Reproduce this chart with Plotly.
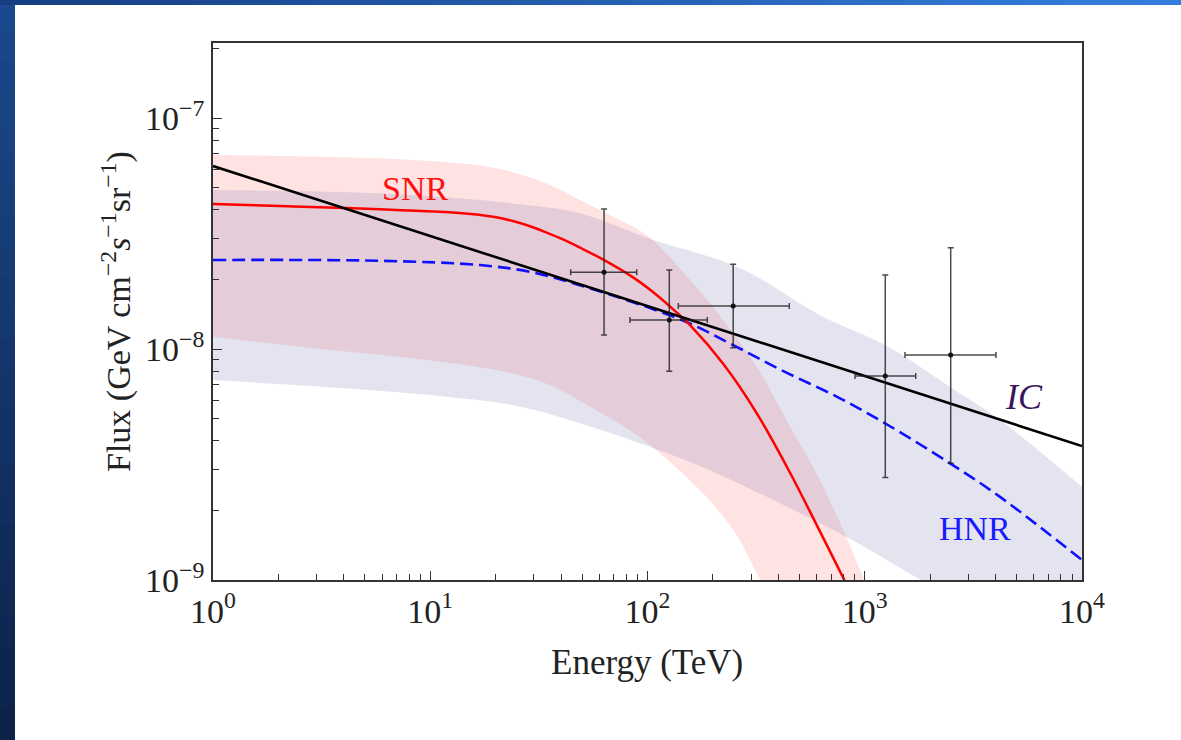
import plotly.graph_objects as go

# ---------------- data ----------------
ic_energy = [1, 10000]
ic_flux = [6.2e-8, 3.8e-9]

snr_energy = [1, 2.03, 4.1, 6.96, 11.8, 15.4, 20.1, 24.0, 28.8, 34.1, 40.8, 49.9, 61.1, 85.8,
              104.9, 129, 157, 223, 318, 453, 603, 811, 951]
snr_flux = [4.243e-8, 4.16e-8, 4.076e-8, 4.0e-8, 3.917e-8, 3.84e-8, 3.72e-8, 3.581e-8, 3.40e-8,
            3.20e-8, 2.982e-8, 2.723e-8, 2.467e-8, 2.043e-8, 1.779e-8, 1.508e-8, 1.268e-8,
            8.63e-9, 5.28e-9, 2.914e-9, 1.719e-9, 9.87e-10, 7.27e-10]

hnr_energy = [1, 5.85, 16.9, 28.7, 48.7, 100.5, 157, 248, 413, 769, 1240, 2469, 4194, 10000]
hnr_flux = [2.43e-8, 2.41e-8, 2.31e-8, 2.16e-8, 1.89e-8, 1.515e-8, 1.29e-8, 1.04e-8, 8.11e-9,
            6.12e-9, 4.77e-9, 3.20e-9, 2.29e-9, 1.22e-9]

snr_band_hi_energy = [1, 8.33, 20.1, 34.1, 48.9, 69.4, 100.5, 157, 223, 318, 453, 622, 992, 1175]
snr_band_hi_flux = [6.92e-8, 6.58e-8, 6.06e-8, 5.22e-8, 4.42e-8, 3.74e-8, 3.08e-8, 1.99e-8,
                    1.335e-8, 8.38e-9, 4.61e-9, 2.71e-9, 1.0e-9, 6.1e-10]
snr_band_lo_energy = [1, 2.89, 8.33, 20.1, 34.1, 57.9, 95.7, 174, 248, 330, 386]
snr_band_lo_flux = [1.13e-8, 1.007e-8, 9.11e-9, 8.11e-9, 7.10e-9, 5.44e-9, 4.04e-9, 2.45e-9,
                    1.65e-9, 1.0e-9, 7.6e-10]

hnr_band_hi_energy = [1, 5.85, 24.0, 48.9, 100.5, 267, 622, 1240, 2469, 4194, 10000]
hnr_band_hi_flux = [4.88e-8, 4.72e-8, 4.27e-8, 3.87e-8, 3.02e-8, 2.24e-8, 1.40e-8, 1.04e-8,
                    6.85e-9, 4.93e-9, 2.53e-9]
hnr_band_lo_energy = [1, 4.1, 11.8, 24.0, 48.9, 157, 407, 874, 1815, 10000]
hnr_band_lo_flux = [7.34e-9, 6.76e-9, 6.22e-9, 5.72e-9, 4.77e-9, 3.24e-9, 2.15e-9, 1.49e-9,
                    1.0e-9, 4.0e-10]

obs_energy = [63.1, 126, 248, 1243, 2487]
obs_energy_lo = [44.3, 83.0, 138.6, 902, 1532]
obs_energy_hi = [89.2, 188.5, 449.5, 1716, 4018]
obs_flux = [2.15e-8, 1.336e-8, 1.535e-8, 7.64e-9, 9.42e-9]
obs_flux_lo = [1.15e-8, 8.01e-9, 1.013e-8, 2.78e-9, 3.20e-9]
obs_flux_hi = [4.04e-8, 2.20e-8, 2.33e-8, 2.09e-8, 2.745e-8]

x_tick_vals = [1, 10, 100, 1000, 10000]
x_tick_text = ["10<sup>0</sup>", "10<sup>1</sup>", "10<sup>2</sup>", "10<sup>3</sup>", "10<sup>4</sup>"]
y_tick_vals = [1e-9, 1e-8, 1e-7]
y_tick_text = ["10<sup>\u22129</sup>", "10<sup>\u22128</sup>", "10<sup>\u22127</sup>"]

# ---------------- figure ----------------
FONT = "Liberation Serif, Times New Roman, serif"
PINK = "rgba(255,60,60,0.15)"
LAV = "rgba(120,120,180,0.20)"

fig = go.Figure()

# SNR band
fig.add_trace(go.Scatter(x=snr_band_lo_energy, y=snr_band_lo_flux, mode="lines",
                         line=dict(width=0, shape="spline", color=PINK), hoverinfo="skip",
                         showlegend=False))
fig.add_trace(go.Scatter(x=snr_band_hi_energy, y=snr_band_hi_flux, mode="lines",
                         line=dict(width=0, shape="spline", color=PINK), fill="tonexty",
                         fillcolor=PINK, hoverinfo="skip", showlegend=False))
# HNR band
fig.add_trace(go.Scatter(x=hnr_band_lo_energy, y=hnr_band_lo_flux, mode="lines",
                         line=dict(width=0, shape="spline", color=LAV), hoverinfo="skip",
                         showlegend=False))
fig.add_trace(go.Scatter(x=hnr_band_hi_energy, y=hnr_band_hi_flux, mode="lines",
                         line=dict(width=0, shape="spline", color=LAV), fill="tonexty",
                         fillcolor=LAV, hoverinfo="skip", showlegend=False))

# model curves
fig.add_trace(go.Scatter(x=hnr_energy, y=hnr_flux, mode="lines",
                         line=dict(color="#1010ff", width=2.6, dash="13px,6px", shape="spline"),
                         showlegend=False))
fig.add_trace(go.Scatter(x=snr_energy, y=snr_flux, mode="lines",
                         line=dict(color="#ff0000", width=2.5, shape="spline", smoothing=1.0),
                         showlegend=False))
fig.add_trace(go.Scatter(x=ic_energy, y=ic_flux, mode="lines",
                         line=dict(color="#000000", width=2.6), showlegend=False))

# data points
fig.add_trace(go.Scatter(
    x=obs_energy, y=obs_flux, mode="markers",
    marker=dict(color="#111111", size=5),
    error_x=dict(type="data", symmetric=False,
                 array=[h - v for h, v in zip(obs_energy_hi, obs_energy)],
                 arrayminus=[v - l for l, v in zip(obs_energy_lo, obs_energy)],
                 color="rgba(30,30,30,0.8)", thickness=1.5, width=3),
    error_y=dict(type="data", symmetric=False,
                 array=[h - v for h, v in zip(obs_flux_hi, obs_flux)],
                 arrayminus=[v - l for l, v in zip(obs_flux_lo, obs_flux)],
                 color="rgba(30,30,30,0.8)", thickness=1.5, width=3),
    showlegend=False))

axis_common = dict(
    showline=True, linecolor="#333333", linewidth=1.5, mirror=True,
    ticks="inside", ticklen=9, tickwidth=1.2, tickcolor="#333333",
    showgrid=False, zeroline=False,
    tickfont=dict(family=FONT, size=34, color="#222222"),
)

fig.update_xaxes(type="log", range=[0, 4], tickmode="array", tickvals=x_tick_vals,
                 ticktext=x_tick_text,
                 minor=dict(tickmode="array",
                            tickvals=[m * 10 ** d for d in range(4) for m in range(2, 10)],
                            ticks="inside", ticklen=6, tickcolor="#333333", tickwidth=1.1,
                            showgrid=False),
                 **axis_common)
fig.update_yaxes(type="log", range=[-9, -6.675], tickmode="array", tickvals=y_tick_vals,
                 ticktext=y_tick_text,
                 minor=dict(tickmode="array",
                            tickvals=[m * 10.0 ** e for e in (-9, -8, -7) for m in range(2, 10)],
                            ticks="inside", ticklen=6, tickcolor="#333333", tickwidth=1.1,
                            showgrid=False),
                 **axis_common)

# slide background decorations (blue left stripe + top bar, gradient approximated)
W, H = 1181, 740
L, R, T, B = 213, 1082, 43, 580
def px(xp):
    return (xp - L) / (R - L)
def py(yp):
    return (B - yp) / (B - T)

shapes = []
n = 24
top_c = (27, 74, 143)
bot_c = (13, 34, 72)
for i in range(n):
    f = (i + 0.5) / n
    c = tuple(int(top_c[k] + (bot_c[k] - top_c[k]) * f) for k in range(3))
    shapes.append(dict(type="rect", xref="paper", yref="paper",
                       x0=px(0), x1=px(15), y0=py(H * i / n), y1=py(H * (i + 1) / n + 1),
                       fillcolor="rgb(%d,%d,%d)" % c, line=dict(width=0), layer="above"))
left_c = (22, 62, 130)
right_c = (52, 128, 222)
m = 30
for i in range(m):
    f = (i + 0.5) / m
    c = tuple(int(left_c[k] + (right_c[k] - left_c[k]) * f) for k in range(3))
    shapes.append(dict(type="rect", xref="paper", yref="paper",
                       x0=px(W * i / m), x1=px(W * (i + 1) / m + 1), y0=py(5), y1=py(0),
                       fillcolor="rgb(%d,%d,%d)" % c, line=dict(width=0), layer="above"))

annotations = [
    dict(text="Energy (TeV)", xref="paper", yref="paper", x=px(647), y=py(662),
         xanchor="center", yanchor="middle",
         showarrow=False, font=dict(family=FONT, size=35, color="#222222")),
    dict(text="Flux (GeV cm<sup>\u22122</sup><i>s</i><sup>\u22121</sup>sr<sup>\u22121</sup>)",
         xref="paper", yref="paper", x=px(116), y=py(312), textangle=-90,
         xanchor="center", yanchor="middle",
         showarrow=False, font=dict(family=FONT, size=34, color="#222222")),
    dict(text="SNR", x=0.9275, y=-7.305, xref="x", yref="y", showarrow=False,
         xanchor="center", yanchor="middle",
         font=dict(family=FONT, size=34, color="#ff1010")),
    dict(text="HNR", x=3.5075, y=-8.775, xref="x", yref="y", showarrow=False,
         xanchor="center", yanchor="middle",
         font=dict(family=FONT, size=34, color="#1a1aff")),
    dict(text="<i>IC</i>", x=3.733, y=-8.208, xref="x", yref="y", showarrow=False,
         xanchor="center", yanchor="middle",
         font=dict(family=FONT, size=36, color="#3a1660")),
]

fig.update_layout(
    width=W, height=H,
    margin=dict(l=L, r=W - R, t=T, b=H - B, autoexpand=False),
    paper_bgcolor="white", plot_bgcolor="white",
    shapes=shapes, annotations=annotations,
    showlegend=False,
)

fig.write_html("out.html")
